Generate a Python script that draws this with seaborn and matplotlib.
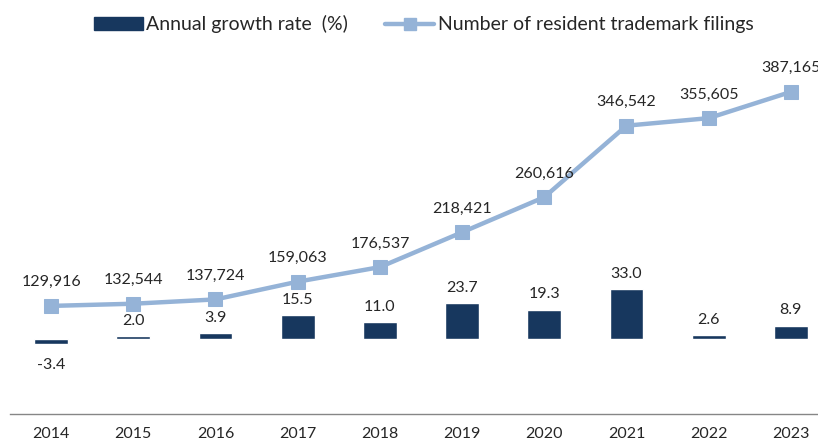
import numpy as np
import pandas as pd
import matplotlib
matplotlib.use("Agg")
import matplotlib.pyplot as plt
import seaborn as sns
from matplotlib.lines import Line2D
from matplotlib.patches import Patch

years = ["2014", "2015", "2016", "2017", "2018", "2019", "2020", "2021", "2022", "2023"]
growth = [-3.4, 2.0, 3.9, 15.5, 11.0, 23.7, 19.3, 33.0, 2.6, 8.9]
filings = [129916, 132544, 137724, 159063, 176537, 218421, 260616, 346542, 355605, 387165]

bar_label = "Annual growth rate  (%)"
line_label = "Number of resident trademark filings"

sns.set_style("white")
plt.rcParams["font.family"] = ["Lato", "DejaVu Sans"]

bar_color = "#17375E"
line_color = "#95B3D7"
text_color = "#262626"

df = pd.DataFrame({"year": years, "growth": growth, "filings": filings})
df["pos"] = np.arange(len(years))

fig = plt.figure(figsize=(8.18, 4.42), dpi=100)
ax = fig.add_axes([10 / 818, 28 / 442, 822 / 818, 364 / 442])

sns.barplot(data=df, x="year", y="growth", color=bar_color, width=0.41,
            saturation=1, ax=ax)
ax.set_ylim(-49.3, 190.1)
ax.set_xlim(-0.5, 9.5)

ax2 = ax.twinx()
sns.lineplot(data=df, x="pos", y="filings", color=line_color, linewidth=3.2,
             marker="s", markersize=9.5, markeredgecolor=line_color, ax=ax2)
ax2.set_ylim(0, 437500)
ax2.set_xlim(-0.5, 9.5)

for a in (ax, ax2):
    a.set_ylabel("")
    a.set_yticks([])
    for s in ("top", "right", "left"):
        a.spines[s].set_visible(False)
ax2.spines["bottom"].set_visible(False)
ax.spines["bottom"].set_color("#868686")
ax.spines["bottom"].set_linewidth(1.0)

ax.set_xticks(range(len(years)))
ax.set_xticklabels(years, fontsize=11.5, color=text_color)
ax.tick_params(axis="x", which="major", length=0, pad=9)
ax.set_xticks(np.arange(-0.5, 10.0, 1.0), minor=True)
ax.tick_params(axis="x", which="minor", length=5, width=1.0, color="#868686", direction="out")
ax.set_xlabel("")
ax2.set_xlabel("")

for i, g in enumerate(growth):
    if g >= 0:
        ax.annotate(f"{g:.1f}", (i, g), xytext=(0, 6), textcoords="offset points",
                    ha="center", va="bottom", fontsize=11.5, color=text_color)
    else:
        ax.annotate(f"{g:.1f}", (i, g), xytext=(0, -10), textcoords="offset points",
                    ha="center", va="top", fontsize=11.5, color=text_color)

for i, v in enumerate(filings):
    ax2.annotate(f"{v:,}", (i, v), xytext=(0, 12), textcoords="offset points",
                 ha="center", va="bottom", fontsize=11.5, color=text_color)

handles = [Patch(facecolor=bar_color, edgecolor=bar_color),
           Line2D([0], [0], color=line_color, linewidth=3.2, marker="s",
                  markersize=8, markeredgecolor=line_color)]
fig.legend(handles, [bar_label, line_label], loc="upper center",
           bbox_to_anchor=(0.518, 1.005), ncol=2, frameon=False, fontsize=14,
           handlelength=2.5, handletextpad=0.2, columnspacing=1.9,
           labelcolor=text_color)

fig.savefig("out.png", dpi=100)
